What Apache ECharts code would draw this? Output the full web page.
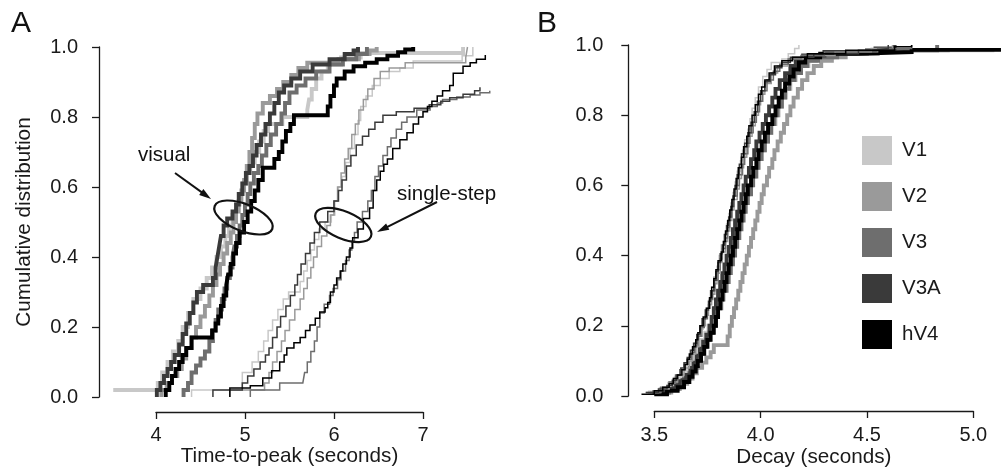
<!DOCTYPE html>
<html><head><meta charset="utf-8">
<script src="https://cdn.jsdelivr.net/npm/echarts@6/dist/echarts.min.js"></script>
<style>html,body{margin:0;padding:0;background:#fff}#c{width:1002px;height:472px}</style>
</head><body><div id="c"></div>
<script>
// ---------- categories / styling keys ----------
const regions = ['V1', 'V2', 'V3', 'V3A', 'hV4'];
const regionColors = ['#c8c8c8', '#9a9a9a', '#6e6e6e', '#3a3a3a', '#000000'];
const yTicks = [0, 0.2, 0.4, 0.6, 0.8, 1.0];
const xTicksA = [4, 5, 6, 7];
const xTicksB = [3.5, 4.0, 4.5, 5.0];

// ---------- Panel A: time-to-peak, visual (thick) ----------
const aVisV1 = [[3.52,0.02],[4.02,0.04],[4.07,0.07],[4.13,0.10],[4.19,0.13],[4.25,0.16],[4.30,0.20],[4.36,0.24],[4.42,0.28],[4.50,0.31],[4.57,0.34],[4.63,0.37],[4.68,0.40],[4.73,0.43],[4.78,0.46],[4.82,0.49],[4.86,0.52],[4.90,0.55],[4.94,0.58],[4.98,0.61],[5.02,0.64],[5.06,0.67],[5.11,0.70],[5.16,0.73],[5.21,0.76],[5.26,0.78],[5.42,0.80],[5.70,0.82],[5.72,0.85],[5.75,0.88],[5.80,0.91],[5.86,0.93],[5.93,0.95],[6.08,0.97],[6.30,0.983],[7.45,0.983],[7.45,1.0]];
const aVisV2 = [[4.06,0.00],[4.06,0.02],[4.12,0.04],[4.18,0.06],[4.24,0.08],[4.29,0.11],[4.34,0.14],[4.40,0.17],[4.45,0.20],[4.50,0.23],[4.55,0.26],[4.60,0.29],[4.64,0.32],[4.68,0.35],[4.72,0.38],[4.76,0.41],[4.80,0.44],[4.84,0.47],[4.87,0.50],[4.90,0.53],[4.93,0.56],[4.96,0.59],[4.99,0.62],[5.02,0.66],[5.05,0.70],[5.08,0.74],[5.11,0.78],[5.14,0.81],[5.20,0.84],[5.28,0.86],[5.36,0.88],[5.43,0.90],[5.52,0.92],[5.60,0.94],[5.70,0.955],[6.05,0.965],[6.28,0.98],[6.40,0.99],[6.48,1.0]];
const aVisV3 = [[4.31,0.00],[4.31,0.02],[4.36,0.04],[4.40,0.07],[4.45,0.09],[4.50,0.11],[4.55,0.13],[4.60,0.16],[4.64,0.19],[4.67,0.22],[4.70,0.25],[4.74,0.28],[4.77,0.31],[4.80,0.34],[4.83,0.37],[4.86,0.40],[4.88,0.43],[4.91,0.46],[4.94,0.49],[4.97,0.52],[5.00,0.55],[5.03,0.58],[5.06,0.61],[5.10,0.64],[5.15,0.66],[5.19,0.69],[5.24,0.72],[5.29,0.75],[5.35,0.78],[5.41,0.81],[5.45,0.84],[5.50,0.87],[5.58,0.89],[5.68,0.91],[5.80,0.93],[5.95,0.95],[6.10,0.965],[6.25,0.98],[6.37,1.0]];
const aVisV3A = [[4.01,0.00],[4.01,0.02],[4.05,0.04],[4.09,0.06],[4.13,0.08],[4.17,0.10],[4.21,0.12],[4.26,0.15],[4.30,0.18],[4.34,0.21],[4.38,0.24],[4.42,0.27],[4.46,0.30],[4.53,0.32],[4.64,0.34],[4.67,0.37],[4.69,0.40],[4.71,0.43],[4.73,0.46],[4.76,0.49],[4.80,0.51],[4.86,0.53],[4.90,0.55],[4.93,0.58],[4.97,0.61],[5.01,0.64],[5.05,0.66],[5.09,0.69],[5.13,0.72],[5.18,0.75],[5.23,0.78],[5.28,0.81],[5.33,0.84],[5.38,0.87],[5.44,0.89],[5.52,0.91],[5.62,0.93],[5.76,0.95],[5.95,0.965],[6.12,0.98],[6.22,0.99],[6.27,1.0]];
const aVisHV4 = [[4.11,0.00],[4.11,0.02],[4.15,0.04],[4.18,0.06],[4.22,0.08],[4.26,0.10],[4.30,0.12],[4.34,0.14],[4.40,0.17],[4.63,0.19],[4.67,0.21],[4.70,0.23],[4.73,0.26],[4.76,0.29],[4.79,0.32],[4.81,0.35],[4.84,0.38],[4.87,0.41],[4.90,0.44],[4.94,0.47],[4.99,0.50],[5.03,0.53],[5.07,0.56],[5.11,0.59],[5.15,0.62],[5.20,0.655],[5.33,0.68],[5.38,0.70],[5.42,0.73],[5.46,0.76],[5.51,0.78],[5.55,0.805],[5.93,0.83],[5.96,0.86],[6.00,0.89],[6.03,0.91],[6.12,0.93],[6.22,0.945],[6.35,0.955],[6.48,0.965],[6.60,0.975],[6.72,0.985],[6.80,0.993],[6.89,1.0]];

// ---------- Panel A: time-to-peak, single-step (thin) ----------
const aSsV1 = [[4.40,0.00],[4.40,0.02],[4.97,0.07],[5.08,0.10],[5.15,0.13],[5.21,0.16],[5.26,0.19],[5.31,0.22],[5.37,0.25],[5.43,0.28],[5.49,0.30],[5.62,0.33],[5.66,0.36],[5.70,0.39],[5.74,0.42],[5.78,0.45],[5.83,0.48],[5.90,0.50],[5.97,0.52],[6.01,0.56],[6.05,0.60],[6.09,0.63],[6.13,0.67],[6.18,0.71],[6.23,0.75],[6.27,0.79],[6.30,0.83],[6.36,0.86],[6.43,0.89],[6.52,0.91],[6.62,0.93],[6.74,0.94],[6.89,0.96],[7.44,0.975],[7.56,1.0]];
const aSsV2 = [[4.83,0.00],[4.83,0.02],[5.22,0.04],[5.27,0.07],[5.31,0.10],[5.36,0.13],[5.41,0.16],[5.45,0.19],[5.50,0.22],[5.56,0.25],[5.62,0.28],[5.66,0.31],[5.70,0.34],[5.74,0.37],[5.77,0.40],[5.81,0.43],[5.86,0.46],[5.92,0.49],[5.96,0.52],[6.00,0.56],[6.04,0.60],[6.08,0.64],[6.12,0.68],[6.16,0.71],[6.20,0.75],[6.24,0.78],[6.28,0.82],[6.33,0.85],[6.38,0.88],[6.45,0.91],[6.52,0.93],[6.62,0.94],[6.80,0.955],[7.48,0.97],[7.50,1.0]];
const aSsV3 = [[5.06,0.00],[5.06,0.02],[5.39,0.04],[5.65,0.045],[5.67,0.07],[5.70,0.10],[5.74,0.13],[5.78,0.16],[5.81,0.20],[5.84,0.24],[5.89,0.265],[5.95,0.29],[5.99,0.31],[6.04,0.335],[6.08,0.36],[6.13,0.39],[6.17,0.42],[6.20,0.445],[6.23,0.47],[6.26,0.50],[6.32,0.53],[6.38,0.56],[6.42,0.59],[6.46,0.63],[6.50,0.66],[6.55,0.69],[6.60,0.715],[6.64,0.74],[6.70,0.765],[6.76,0.785],[6.82,0.80],[6.93,0.82],[7.08,0.83],[7.16,0.84],[7.22,0.85],[7.38,0.857],[7.53,0.863],[7.64,0.869],[7.75,0.875]];
const aSsV3A = [[4.64,0.00],[4.64,0.02],[4.97,0.04],[5.03,0.06],[5.10,0.08],[5.17,0.10],[5.23,0.12],[5.27,0.14],[5.31,0.17],[5.36,0.20],[5.40,0.23],[5.46,0.26],[5.51,0.29],[5.56,0.32],[5.59,0.35],[5.63,0.38],[5.68,0.41],[5.73,0.44],[5.78,0.47],[5.84,0.50],[5.93,0.53],[6.00,0.56],[6.05,0.59],[6.09,0.62],[6.14,0.66],[6.19,0.69],[6.25,0.72],[6.32,0.745],[6.39,0.765],[6.46,0.785],[6.55,0.805],[6.70,0.815],[6.90,0.825],[7.07,0.835],[7.20,0.845],[7.30,0.855],[7.45,0.865],[7.58,0.875],[7.64,0.885]];
const aSsHV4 = [[4.83,0.00],[4.83,0.026],[5.06,0.032],[5.20,0.054],[5.30,0.075],[5.39,0.10],[5.44,0.12],[5.47,0.14],[5.55,0.155],[5.62,0.17],[5.68,0.19],[5.73,0.206],[5.79,0.225],[5.84,0.243],[5.90,0.255],[5.93,0.27],[5.96,0.30],[6.00,0.32],[6.03,0.34],[6.07,0.36],[6.10,0.38],[6.14,0.40],[6.18,0.426],[6.21,0.455],[6.27,0.48],[6.33,0.51],[6.40,0.54],[6.44,0.59],[6.48,0.62],[6.52,0.645],[6.56,0.665],[6.60,0.68],[6.66,0.71],[6.74,0.735],[6.82,0.755],[6.89,0.78],[6.95,0.80],[7.00,0.815],[7.05,0.83],[7.10,0.845],[7.16,0.86],[7.22,0.875],[7.30,0.89],[7.34,0.925],[7.45,0.945],[7.53,0.955],[7.60,0.965],[7.70,0.977]];

// ---------- Panel B: decay, visual (thick) ----------
const bVisV1 = [[3.47,0.01],[3.53,0.02],[3.57,0.035],[3.60,0.05],[3.63,0.065],[3.655,0.08],[3.675,0.10],[3.69,0.12],[3.705,0.14],[3.72,0.16],[3.74,0.18],[3.755,0.20],[3.77,0.225],[3.785,0.25],[3.795,0.275],[3.81,0.30],[3.82,0.325],[3.835,0.35],[3.845,0.375],[3.855,0.40],[3.865,0.425],[3.875,0.45],[3.89,0.475],[3.90,0.50],[3.91,0.525],[3.92,0.55],[3.935,0.575],[3.945,0.60],[3.96,0.625],[3.975,0.65],[3.99,0.675],[4.00,0.70],[4.02,0.725],[4.035,0.75],[4.05,0.775],[4.07,0.80],[4.085,0.825],[4.10,0.85],[4.12,0.875],[4.14,0.90],[4.165,0.92],[4.19,0.94],[4.225,0.955],[4.26,0.965],[4.34,0.975],[4.55,0.985],[5.09,0.99]];
const bVisV2 = [[3.53,0.01],[3.58,0.02],[3.62,0.035],[3.655,0.05],[3.68,0.065],[3.70,0.08],[3.725,0.095],[3.745,0.11],[3.765,0.125],[3.78,0.145],[3.845,0.17],[3.855,0.20],[3.865,0.225],[3.875,0.25],[3.885,0.275],[3.895,0.30],[3.905,0.325],[3.915,0.35],[3.925,0.375],[3.935,0.40],[3.945,0.425],[3.955,0.45],[3.965,0.475],[3.975,0.50],[3.985,0.525],[3.995,0.55],[4.005,0.575],[4.015,0.60],[4.03,0.625],[4.04,0.65],[4.055,0.675],[4.065,0.70],[4.08,0.725],[4.095,0.75],[4.11,0.775],[4.125,0.80],[4.14,0.825],[4.155,0.85],[4.175,0.875],[4.195,0.90],[4.22,0.92],[4.25,0.94],[4.285,0.955],[4.335,0.965],[4.40,0.975],[4.55,0.985],[4.88,0.99]];
const bVisV3 = [[3.52,0.01],[3.57,0.02],[3.61,0.035],[3.64,0.05],[3.665,0.065],[3.68,0.08],[3.70,0.10],[3.715,0.12],[3.73,0.14],[3.745,0.16],[3.76,0.18],[3.775,0.20],[3.79,0.225],[3.80,0.25],[3.815,0.275],[3.825,0.30],[3.84,0.325],[3.85,0.35],[3.86,0.375],[3.87,0.40],[3.88,0.425],[3.89,0.45],[3.90,0.475],[3.91,0.50],[3.92,0.525],[3.93,0.55],[3.94,0.575],[3.955,0.60],[3.965,0.625],[3.98,0.65],[3.99,0.675],[4.005,0.70],[4.02,0.725],[4.035,0.75],[4.05,0.775],[4.065,0.80],[4.08,0.825],[4.10,0.85],[4.115,0.875],[4.135,0.90],[4.16,0.92],[4.19,0.94],[4.22,0.955],[4.27,0.965],[4.36,0.975],[4.50,0.985],[4.83,1.0]];
const bVisV3A = [[3.49,0.01],[3.55,0.02],[3.59,0.03],[3.62,0.045],[3.65,0.06],[3.67,0.08],[3.685,0.095],[3.70,0.115],[3.715,0.135],[3.73,0.155],[3.745,0.175],[3.76,0.20],[3.77,0.225],[3.78,0.25],[3.79,0.275],[3.80,0.30],[3.81,0.325],[3.82,0.35],[3.83,0.375],[3.84,0.40],[3.85,0.425],[3.86,0.45],[3.87,0.475],[3.88,0.50],[3.89,0.525],[3.90,0.55],[3.91,0.575],[3.92,0.60],[3.93,0.625],[3.945,0.65],[3.955,0.675],[3.97,0.70],[3.98,0.725],[3.995,0.75],[4.01,0.775],[4.025,0.80],[4.04,0.825],[4.055,0.85],[4.07,0.875],[4.09,0.90],[4.115,0.92],[4.14,0.94],[4.165,0.955],[4.20,0.97],[4.30,0.98],[4.54,0.99],[4.63,1.0]];
const bVisHV4 = [[3.50,0.005],[3.56,0.015],[3.61,0.025],[3.64,0.04],[3.665,0.055],[3.68,0.07],[3.695,0.085],[3.705,0.10],[3.72,0.12],[3.735,0.14],[3.75,0.16],[3.765,0.18],[3.78,0.20],[3.79,0.225],[3.80,0.25],[3.81,0.275],[3.82,0.30],[3.83,0.325],[3.84,0.35],[3.85,0.375],[3.86,0.40],[3.87,0.425],[3.88,0.45],[3.89,0.475],[3.90,0.50],[3.91,0.525],[3.92,0.55],[3.93,0.575],[3.94,0.60],[3.955,0.625],[3.965,0.65],[3.98,0.675],[3.99,0.70],[4.005,0.725],[4.02,0.75],[4.035,0.775],[4.055,0.80],[4.07,0.825],[4.085,0.85],[4.10,0.87],[4.115,0.89],[4.135,0.91],[4.155,0.93],[4.18,0.95],[4.21,0.965],[4.28,0.975],[4.45,0.98],[4.71,0.986],[5.13,0.986]];

// ---------- Panel B: decay, single-step (thin) ----------
const bSsV1 = [[3.47,0.01],[3.52,0.02],[3.56,0.03],[3.59,0.05],[3.62,0.07],[3.645,0.09],[3.66,0.11],[3.675,0.13],[3.69,0.15],[3.70,0.17],[3.715,0.19],[3.73,0.22],[3.745,0.25],[3.76,0.28],[3.77,0.31],[3.78,0.34],[3.795,0.37],[3.805,0.40],[3.815,0.43],[3.83,0.46],[3.84,0.49],[3.85,0.52],[3.86,0.55],[3.87,0.58],[3.88,0.61],[3.89,0.64],[3.905,0.67],[3.915,0.70],[3.925,0.73],[3.94,0.76],[3.95,0.79],[3.96,0.82],[3.975,0.85],[3.99,0.88],[4.01,0.91],[4.03,0.93],[4.05,0.95],[4.10,0.96],[4.13,0.975],[4.16,0.99],[4.18,1.0]];
const bSsV2 = [[3.46,0.01],[3.53,0.02],[3.57,0.04],[3.61,0.06],[3.64,0.08],[3.665,0.10],[3.68,0.12],[3.695,0.14],[3.71,0.17],[3.725,0.20],[3.74,0.23],[3.755,0.26],[3.77,0.29],[3.785,0.32],[3.795,0.35],[3.81,0.38],[3.82,0.41],[3.835,0.44],[3.845,0.47],[3.855,0.50],[3.865,0.53],[3.875,0.56],[3.89,0.59],[3.90,0.62],[3.91,0.65],[3.92,0.68],[3.935,0.71],[3.945,0.74],[3.96,0.77],[3.975,0.80],[3.99,0.83],[4.00,0.86],[4.02,0.89],[4.05,0.92],[4.08,0.94],[4.13,0.96],[4.20,0.97],[4.35,0.98],[4.52,0.99],[4.62,1.0]];
const bSsV3 = [[3.48,0.01],[3.53,0.025],[3.57,0.04],[3.60,0.06],[3.62,0.075],[3.64,0.09],[3.66,0.105],[3.675,0.125],[3.69,0.145],[3.705,0.17],[3.72,0.195],[3.735,0.22],[3.75,0.25],[3.76,0.275],[3.775,0.30],[3.785,0.33],[3.80,0.36],[3.81,0.39],[3.82,0.42],[3.835,0.45],[3.845,0.48],[3.855,0.51],[3.865,0.54],[3.875,0.57],[3.89,0.60],[3.90,0.63],[3.915,0.66],[3.925,0.69],[3.94,0.72],[3.95,0.75],[3.965,0.78],[3.98,0.81],[3.995,0.84],[4.01,0.87],[4.03,0.90],[4.06,0.925],[4.09,0.945],[4.13,0.96],[4.19,0.97],[4.30,0.98],[4.55,0.99],[4.71,1.0]];
const bSsV3A = [[3.46,0.01],[3.52,0.02],[3.56,0.03],[3.585,0.045],[3.605,0.06],[3.625,0.08],[3.64,0.095],[3.655,0.11],[3.67,0.13],[3.685,0.15],[3.70,0.175],[3.715,0.20],[3.725,0.22],[3.74,0.245],[3.755,0.27],[3.765,0.30],[3.78,0.33],[3.79,0.355],[3.80,0.38],[3.81,0.405],[3.82,0.43],[3.83,0.46],[3.84,0.485],[3.85,0.51],[3.86,0.54],[3.87,0.57],[3.88,0.60],[3.89,0.63],[3.90,0.66],[3.91,0.69],[3.925,0.72],[3.94,0.75],[3.955,0.78],[3.97,0.81],[3.985,0.84],[4.00,0.87],[4.02,0.895],[4.045,0.915],[4.07,0.935],[4.10,0.95],[4.14,0.965],[4.25,0.975],[4.46,0.985],[4.54,0.99],[4.60,1.0]];
const bSsHV4 = [[3.44,0.005],[3.50,0.015],[3.54,0.025],[3.57,0.035],[3.59,0.05],[3.61,0.06],[3.63,0.075],[3.645,0.09],[3.655,0.105],[3.665,0.12],[3.68,0.14],[3.695,0.16],[3.705,0.18],[3.715,0.20],[3.73,0.225],[3.745,0.25],[3.76,0.28],[3.77,0.31],[3.78,0.335],[3.79,0.36],[3.80,0.385],[3.815,0.41],[3.825,0.44],[3.835,0.47],[3.845,0.50],[3.855,0.53],[3.865,0.56],[3.875,0.59],[3.885,0.62],[3.895,0.65],[3.91,0.68],[3.92,0.71],[3.935,0.74],[3.945,0.77],[3.96,0.80],[3.975,0.83],[3.99,0.86],[4.005,0.88],[4.02,0.90],[4.04,0.92],[4.065,0.94],[4.10,0.955],[4.15,0.965],[4.22,0.975],[4.40,0.985],[4.63,0.995],[4.71,1.0]];

const aVisual = [aVisV1, aVisV2, aVisV3, aVisV3A, aVisHV4];
const aSingle = [aSsV1, aSsV2, aSsV3, aSsV3A, aSsHV4];
const bVisual = [bVisV1, bVisV2, bVisV3, bVisV3A, bVisHV4];
const bSingle = [bSsV1, bSsV2, bSsV3, bSsV3A, bSsHV4];

// ---------- build chart ----------
const FONT = '"Liberation Sans", Arial, Helvetica, sans-serif';
const INK = '#1a1a1a';
const chart = echarts.init(document.getElementById('c'), null, {renderer: 'canvas'});

function stepSeries(name, data, color, width, xi, yi) {
  return {
    type: 'line', name: name, data: data, step: 'end',
    symbol: 'none', showSymbol: false, clip: false, silent: true,
    xAxisIndex: xi, yAxisIndex: yi, color: color,
    lineStyle: {color: color, width: width, cap: 'butt', join: 'miter'},
    emphasis: {disabled: true}
  };
}
const series = [];
regions.forEach((r, i) => series.push(stepSeries(r + ' visual (time-to-peak)', aVisual[i], regionColors[i], 3.9, 0, 0)));
regions.forEach((r, i) => series.push(stepSeries(r + ' single-step (time-to-peak)', aSingle[i], regionColors[i], 1.5, 0, 0)));
regions.forEach((r, i) => series.push(stepSeries(r, bVisual[i], regionColors[i], 3.9, 2, 2)));
regions.forEach((r, i) => series.push(stepSeries(r + ' single-step (decay)', bSingle[i], regionColors[i], 1.5, 2, 2)));

const axisLineStyle = {show: true, onZero: false, lineStyle: {color: INK, width: 1.3}};
const axisTickStyle = {show: true, inside: false, length: 7, lineStyle: {color: INK, width: 1.3}};
const lbl = (margin) => ({show: true, margin: margin, color: INK, fontSize: 20, fontFamily: FONT, formatter: v => v.toFixed(1)});

function arrow(x1, y1, x2, y2) {
  const dx = x2 - x1, dy = y2 - y1, L = Math.hypot(dx, dy), ux = dx / L, uy = dy / L;
  const hl = 12, hw = 3.6, bx = x2 - ux * hl, by = y2 - uy * hl;
  return [
    {type: 'line', shape: {x1: x1, y1: y1, x2: bx + ux * 2, y2: by + uy * 2}, style: {stroke: '#111', lineWidth: 2}, z: 100},
    {type: 'polygon', shape: {points: [[x2, y2], [bx - uy * hw, by + ux * hw], [bx + uy * hw, by - ux * hw]]}, style: {fill: '#111'}, z: 100}
  ];
}
function ring(cx, cy, rx, ry, rot) {
  return {type: 'ellipse', x: cx, y: cy, rotation: rot, shape: {cx: 0, cy: 0, rx: rx, ry: ry},
    style: {fill: 'none', stroke: '#111', lineWidth: 2.2}, z: 100};
}
function label(text, x, y, size) {
  return {type: 'text', x: x, y: y, z: 100,
    style: {text: text, fill: '#111', fontSize: size, fontFamily: FONT, align: 'left', verticalAlign: 'middle'}};
}

const option = {
  animation: false,
  backgroundColor: '#ffffff',
  textStyle: {fontFamily: FONT},
  grid: [
    {left: 99, top: 47, width: 395.2, height: 350, containLabel: false, outerBoundsMode: 'none'},
    {left: 156, top: 400, width: 267, height: 12, containLabel: false, outerBoundsMode: 'none'},
    {left: 628.3, top: 45, width: 374.8, height: 351, containLabel: false, outerBoundsMode: 'none'},
    {left: 654.3, top: 399, width: 319, height: 12, containLabel: false, outerBoundsMode: 'none'}
  ],
  xAxis: [
    {gridIndex: 0, type: 'value', min: 3.36, max: 7.8, show: false},
    {gridIndex: 1, type: 'value', min: xTicksA[0], max: xTicksA[xTicksA.length - 1], interval: 1,
      axisLine: axisLineStyle, axisTick: axisTickStyle, splitLine: {show: false},
      axisLabel: {show: true, margin: 13, color: INK, fontSize: 20, fontFamily: FONT, formatter: v => String(v)},
      name: 'Time-to-peak (seconds)', nameLocation: 'middle', nameGap: 30,
      nameTextStyle: {color: INK, fontSize: 20.7, fontFamily: FONT}},
    {gridIndex: 2, type: 'value', min: 3.378, max: 5.14, show: false},
    {gridIndex: 3, type: 'value', min: xTicksB[0], max: xTicksB[xTicksB.length - 1], interval: 0.5,
      axisLine: axisLineStyle, axisTick: axisTickStyle, splitLine: {show: false},
      axisLabel: lbl(14),
      name: 'Decay (seconds)', nameLocation: 'middle', nameGap: 36,
      nameTextStyle: {color: INK, fontSize: 20.7, fontFamily: FONT}}
  ],
  yAxis: [
    {gridIndex: 0, type: 'value', min: yTicks[0], max: yTicks[yTicks.length - 1], interval: 0.2,
      axisLine: axisLineStyle, axisTick: axisTickStyle, splitLine: {show: false}, axisLabel: lbl(21),
      name: 'Cumulative distribution', nameLocation: 'middle', nameGap: 64,
      nameTextStyle: {color: INK, fontSize: 20.7, fontFamily: FONT}},
    {gridIndex: 1, type: 'value', min: 0, max: 1, show: false},
    {gridIndex: 2, type: 'value', min: yTicks[0], max: yTicks[yTicks.length - 1], interval: 0.2,
      axisLine: axisLineStyle, axisTick: axisTickStyle, splitLine: {show: false}, axisLabel: lbl(25)},
    {gridIndex: 3, type: 'value', min: 0, max: 1, show: false}
  ],
  legend: {
    data: regions, orient: 'vertical', left: 862, top: 136, padding: 0,
    icon: 'rect', itemWidth: 30, itemHeight: 29, itemGap: 17,
    selectedMode: false,
    textStyle: {color: INK, fontSize: 20.5, fontFamily: FONT, padding: [0, 0, 0, 5]},
    itemStyle: {borderWidth: 0}
  },
  graphic: [
    label('A', 11, 24, 30),
    label('B', 537, 24, 30),
    label('visual', 138, 155, 20.5),
    label('single-step', 397, 194, 20.5),
    ring(243.5, 217.5, 31, 13.5, -0.38),
    ring(343.3, 225, 30, 13.5, -0.40),
    ...arrow(175, 173, 211, 199),
    ...arrow(437, 202, 377, 232)
  ],
  series: series
};
chart.setOption(option);
</script></body></html>
